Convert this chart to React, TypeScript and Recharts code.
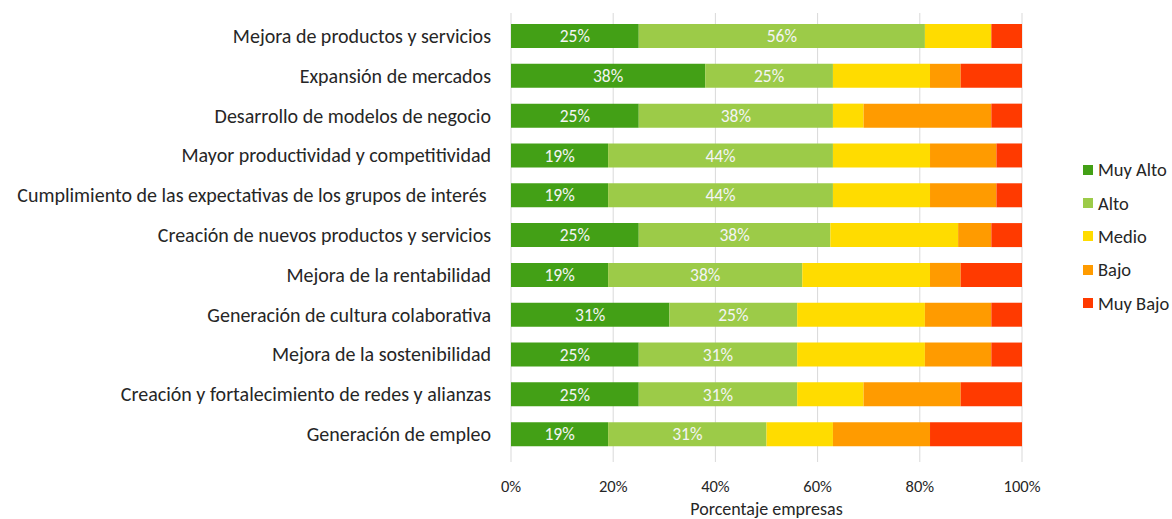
import React from 'react';
import { BarChart, Bar, XAxis, YAxis, CartesianGrid, Legend, LabelList } from 'recharts';

const categories = [
  'Mejora de productos y servicios',
  'Expansión de mercados',
  'Desarrollo de modelos de negocio',
  'Mayor productividad y competitividad',
  'Cumplimiento de las expectativas de los grupos de interés ',
  'Creación de nuevos productos y servicios',
  'Mejora de la rentabilidad',
  'Generación de cultura colaborativa',
  'Mejora de la sostenibilidad',
  'Creación y fortalecimiento de redes y alianzas',
  'Generación de empleo',
];

const muyAlto = [25, 38, 25, 19, 19, 25, 19, 31, 25, 25, 19];
const alto = [56, 25, 38, 44, 44, 37.5, 38, 25, 31, 31, 31];
const medio = [13, 19, 6, 19, 19, 25, 25, 25, 25, 13, 13];
const bajo = [0, 6, 25, 13, 13, 6.5, 6, 13, 13, 19, 19];
const muyBajo = [6, 12, 6, 5, 5, 6, 12, 6, 6, 12, 18];

const xTicks = [0, 20, 40, 60, 80, 100];

const data = categories.map((name, i) => ({
  name,
  muyAlto: muyAlto[i],
  alto: alto[i],
  medio: medio[i],
  bajo: bajo[i],
  muyBajo: muyBajo[i],
}));

const series = [
  { key: 'muyAlto', name: 'Muy Alto', color: '#43a016', label: true },
  { key: 'alto', name: 'Alto', color: '#9ccb48', label: true },
  { key: 'medio', name: 'Medio', color: '#ffdc00', label: false },
  { key: 'bajo', name: 'Bajo', color: '#ff9b00', label: false },
  { key: 'muyBajo', name: 'Muy Bajo', color: '#ff3a00', label: false },
];

const FONT = 'Calibri, Carlito, Lato, sans-serif';

const CategoryTick = ({ x, y, payload }: any) => (
  <text
    x={x}
    y={y}
    dy="0.35em"
    textAnchor="end"
    fill="#262626"
    fontSize={20}
    fontFamily={FONT}
    style={{ whiteSpace: 'pre' }}
  >
    {payload.value}
  </text>
);

const LegendBox = () => (
  <div style={{ fontFamily: FONT, fontSize: 18.5, color: '#262626' }}>
    {series.map((s) => (
      <div key={s.key} style={{ display: 'flex', alignItems: 'center', height: 33.4 }}>
        <span style={{ width: 10, height: 10, background: s.color, marginRight: 5, display: 'inline-block' }} />
        <span>{s.name}</span>
      </div>
    ))}
  </div>
);

export default function App() {
  return (
    <div style={{ position: 'absolute', left: 0, top: 0, background: '#fff' }}>
      <BarChart
        width={1172}
        height={519}
        data={data}
        layout="vertical"
        margin={{ top: 13, right: 150, bottom: 0, left: 0 }}
        barSize={24}
      >
        <CartesianGrid horizontal={false} stroke="#d9d9d9" />
        <XAxis
          type="number"
          domain={[0, 100]}
          ticks={xTicks}
          tickFormatter={(v) => v + '%'}
          tickLine={false}
          axisLine={false}
          tickSize={0}
          tickMargin={18}
          height={57}
          tick={{ fill: '#262626', fontSize: 16.5, fontFamily: FONT }}
          label={{
            value: 'Porcentaje empresas',
            position: 'insideBottom',
            offset: 4,
            fill: '#262626',
            fontSize: 18,
            fontFamily: FONT,
          }}
        />
        <YAxis
          type="category"
          dataKey="name"
          width={511}
          tickLine={false}
          axisLine={false}
          tickSize={0}
          tickMargin={20}
          padding={{ top: 3, bottom: 8 }}
          interval={0}
          tick={<CategoryTick />}
        />
        <Legend
          layout="vertical"
          align="center"
          verticalAlign="middle"
          content={<LegendBox />}
          wrapperStyle={{ left: 1083, top: 153, width: 89 }}
        />
        {series.map((s) => (
          <Bar key={s.key} dataKey={s.key} name={s.name} stackId="a" fill={s.color} isAnimationActive={false}>
            {s.label && (
              <LabelList
                dataKey={s.key}
                position="center"
                formatter={(v: any) => Math.round(Number(v)) + '%'}
                fill="#f4f4f4"
                fontSize={17.5}
                fontFamily={FONT}
              />
            )}
          </Bar>
        ))}
      </BarChart>
    </div>
  );
}
